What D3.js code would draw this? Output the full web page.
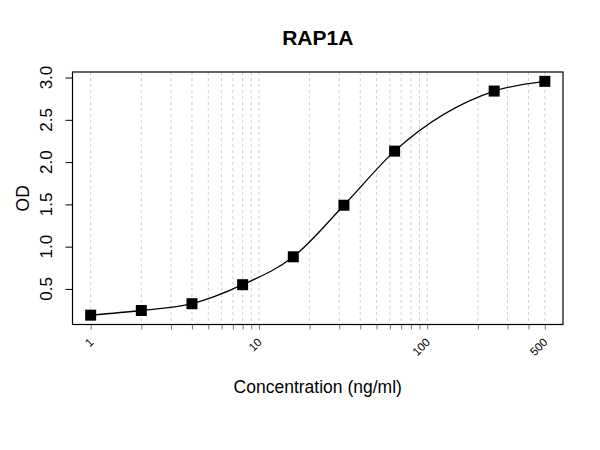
<!DOCTYPE html>
<html>
<head>
<meta charset="utf-8">
<script src="https://cdn.jsdelivr.net/npm/d3@7"></script>
<style>
  body { margin: 0; background: #fff; }
  svg { display: block; font-family: "Liberation Sans", Arial, sans-serif; }
</style>
</head>
<body>
<div id="plot"></div>
<script>
// data
var conc = [1, 2, 4, 8, 16, 32, 64, 250, 500];
var od = [0.19, 0.245, 0.325, 0.55, 0.88, 1.49, 2.13, 2.84, 2.955];
var yTicks = [0.5, 1.0, 1.5, 2.0, 2.5, 3.0];
var xLabels = [1, 10, 100, 500];
var xMinor = [1,2,3,4,5,6,7,8,9,10,20,30,40,50,60,70,80,90,100,200,300,400,500];

var width = 600, height = 450;
var box = {l:72.5, r:563, t:72, b:324.5};

var svg = d3.select('#plot')
  .append('svg')
  .attr('width', width)
  .attr('height', height);

// R style 4% padding on each side
var lx = [Math.log10(d3.min(conc)), Math.log10(d3.max(conc))];
var px = (lx[1]-lx[0])*0.04;
var x = d3.scaleLog()
  .domain([Math.pow(10, lx[0]-px), Math.pow(10, lx[1]+px)])
  .range([box.l, box.r]);

var ly = d3.extent(od);
var py = (ly[1]-ly[0])*0.04;
var y = d3.scaleLinear()
  .domain([ly[0]-py, ly[1]+py])
  .range([box.b, box.t]);

// vertical dashed grid
svg.append('g')
  .selectAll('line')
  .data(xMinor)
  .enter()
  .append('line')
  .attr('x1', function(d){ return x(d); })
  .attr('x2', function(d){ return x(d); })
  .attr('y1', box.t)
  .attr('y2', box.b)
  .style('stroke', '#cfcfcf')
  .style('stroke-width', 1)
  .style('stroke-dasharray', '3,3');

// x axis ticks (grey, short)
var xAxis = svg.append('g')
  .attr('transform', 'translate(0,' + box.b + ')')
  .call(d3.axisBottom(x).tickValues(xMinor).tickSize(5).tickFormat(''));
xAxis.select('.domain').remove();
xAxis.selectAll('.tick line').attr('stroke', '#777');

svg.append('g')
  .selectAll('text')
  .data(xLabels)
  .enter()
  .append('text')
  .attr('transform', function(d){ return 'translate(' + (x(d)+3.5) + ',343) rotate(-45)'; })
  .attr('text-anchor', 'end')
  .style('font-size', '11.5px')
  .style('fill', '#000')
  .text(function(d){ return d; });

// y axis
var yAxis = svg.append('g')
  .attr('transform', 'translate(' + box.l + ',0)')
  .call(d3.axisLeft(y).tickValues(yTicks).tickSize(7).tickFormat(''));
yAxis.select('.domain').remove();
yAxis.selectAll('.tick line').attr('stroke', '#000');

svg.append('g')
  .selectAll('text')
  .data(yTicks)
  .enter()
  .append('text')
  .attr('transform', function(d){ return 'translate(52,' + y(d) + ') rotate(-90)'; })
  .attr('text-anchor', 'middle')
  .style('font-size', '17px')
  .text(function(d){ return d.toFixed(1); });

// plot box
svg.append('rect')
  .attr('x', box.l)
  .attr('y', box.t)
  .attr('width', box.r-box.l)
  .attr('height', box.b-box.t)
  .style('fill', 'none')
  .style('stroke', '#000')
  .style('stroke-width', 1.2);

// curve through the points
var pts = conc.map(function(c, i){ return [c, od[i]]; });
var line = d3.line()
  .x(function(d){ return x(d[0]); })
  .y(function(d){ return y(d[1]); })
  .curve(d3.curveMonotoneX);

svg.append('path')
  .datum(pts)
  .attr('d', line)
  .style('fill', 'none')
  .style('stroke', '#000')
  .style('stroke-width', 1.3);

var s = 11;
svg.append('g')
  .selectAll('rect')
  .data(pts)
  .enter()
  .append('rect')
  .attr('x', function(d){ return x(d[0]) - s/2; })
  .attr('y', function(d){ return y(d[1]) - s/2; })
  .attr('width', s)
  .attr('height', s)
  .style('fill', '#000');

// titles
svg.append('text')
  .attr('x', (box.l+box.r)/2)
  .attr('y', 45)
  .attr('text-anchor', 'middle')
  .style('font-size', '21px')
  .style('font-weight', 'bold')
  .text('RAP1A');

svg.append('text')
  .attr('x', (box.l+box.r)/2)
  .attr('y', 393)
  .attr('text-anchor', 'middle')
  .style('font-size', '17.5px')
  .text('Concentration (ng/ml)');

svg.append('text')
  .attr('transform', 'translate(29,' + (box.t+box.b)/2 + ') rotate(-90)')
  .attr('text-anchor', 'middle')
  .style('font-size', '17.5px')
  .text('OD');
</script>
</body>
</html>
